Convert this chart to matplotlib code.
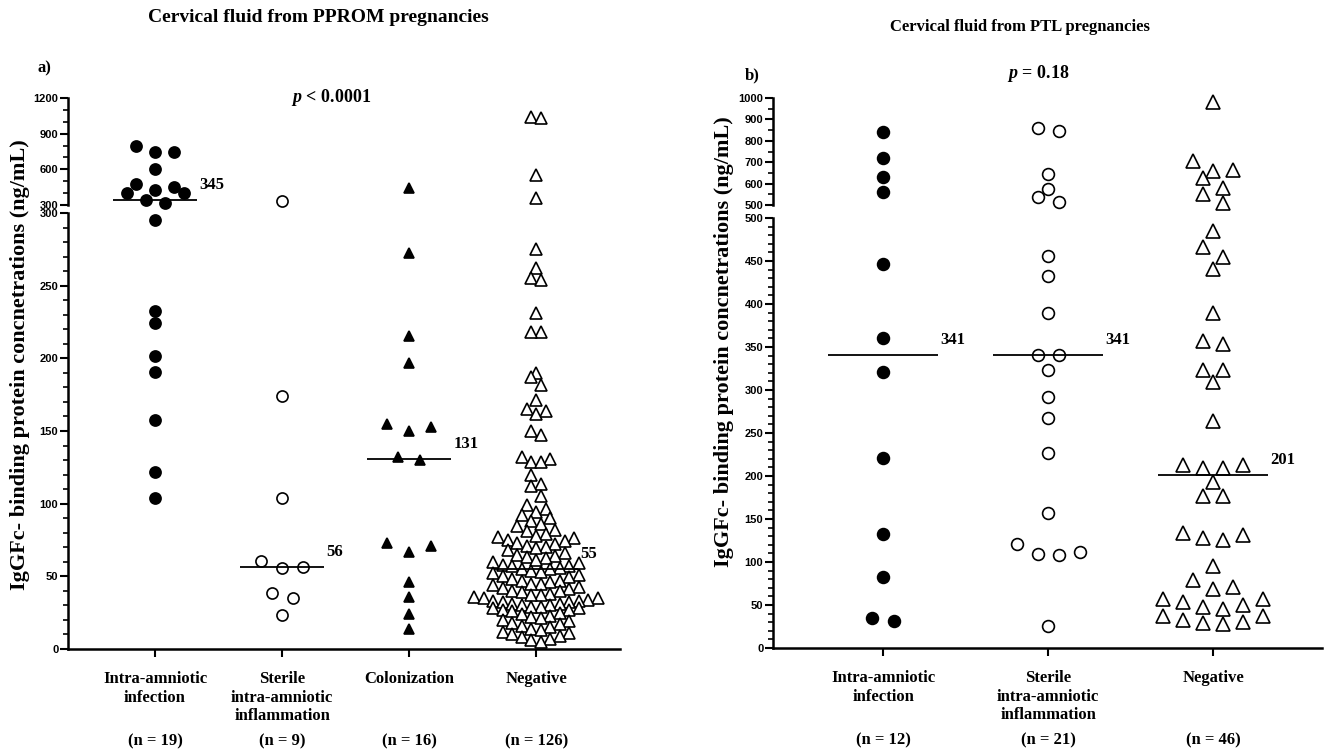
import numpy as np
import matplotlib.pyplot as plt
from matplotlib.ticker import MultipleLocator

plt.rcParams['mathtext.fontset'] = 'custom'
plt.rcParams['mathtext.it'] = 'Liberation Serif:italic:bold'
plt.rcParams['mathtext.rm'] = 'Liberation Serif:bold'

### Data (ng/mL)

# a) PPROM
a_categories = ['Intra-amniotic\ninfection', 'Sterile\nintra-amniotic\ninflammation',
                'Colonization', 'Negative']
a_n = [19, 9, 16, 126]
a_infection = [800, 748, 748, 600, 477, 454, 426, 398, 398, 345, 314,
               295, 232.6, 224.4, 201.3, 190.9, 157.9, 121.7, 103.8]
a_sterile = [336, 174, 104, 60.4, 56.2, 56, 38.3, 35.3, 23.2]
a_colonization = [445, 272.5, 215.7, 196.7, 154.8, 152.5, 149.7, 132, 130,
                  72.9, 71.2, 67, 46.2, 36, 24.1, 14.1]
a_negative = [1037, 1030, 552, 356,
              275, 262, 255, 254, 231, 218, 218, 190, 187, 181.5, 171, 165,
              164, 162, 150, 147, 132, 131, 129, 128.6, 120, 113.5, 112, 105,
              99, 96, 94, 92.5, 90, 88, 86, 84.5, 82, 81, 79, 78, 77, 76.5,
              75, 74, 73, 72, 71, 70, 69.5, 68, 66, 65, 64, 63, 62.5, 61, 60,
              59, 58, 57, 57, 56, 55, 55,
              54, 53, 52, 51, 50, 49.5, 48, 47, 47, 46, 45, 45, 44, 43,
              42, 41, 40, 40, 39, 38, 37, 37, 36, 35, 35, 34,
              33, 33, 32, 32, 31, 31, 30, 30, 29, 29, 28, 28, 27, 27, 26, 25,
              24, 23, 22, 21, 20, 19, 18, 17, 16, 15,
              14, 13, 12, 11, 10, 9, 8, 7, 6, 5]

# b) PTL
b_categories = ['Intra-amniotic\ninfection', 'Sterile\nintra-amniotic\ninflammation',
                'Negative']
b_n = [12, 21, 46]
b_infection = [840, 719, 633, 560, 447, 361, 321, 220.9, 133, 82.4, 35, 31]
b_sterile = [858, 847, 643, 573, 539, 515, 455.8, 432.4, 389, 341, 341,
             322.8, 291.7, 267, 226.7, 156.7, 120.5, 111.6, 108.9, 107.7, 26]
b_negative = [982.7, 705.6, 663.5, 660, 624.8, 578, 551.4, 508,
              485, 466.7, 454.3, 440.6, 389, 356.6, 354, 322.8, 322.8, 309,
              264.4, 212.7, 212.7, 209.2, 208.9, 192.5, 176.2, 176.2,
              133.4, 131, 127.5, 125.6, 95.2, 78.5, 71.2, 68.8,
              57.2, 56.4, 53.2, 50.5, 47.8, 45.5,
              36.9, 36.9, 32.2, 29.9, 29.2, 28.4]

W, H = 1329, 751
fig = plt.figure(figsize=(W / 100, H / 100), dpi=100)

serif = 'Liberation Serif'
sans = 'Liberation Sans'


def px_axes(left, right, top, bottom):
    return fig.add_axes([left / W, 1 - bottom / H, (right - left) / W, (bottom - top) / H])


def style(ax, upper, ylim, major, minor):
    ax.set_ylim(*ylim)
    ax.yaxis.set_major_locator(MultipleLocator(major))
    ax.yaxis.set_minor_locator(MultipleLocator(minor))
    for s in ['top', 'right']:
        ax.spines[s].set_visible(False)
    for s in ['left', 'bottom']:
        ax.spines[s].set_linewidth(1.8)
    ax.tick_params(axis='y', which='major', length=6, width=1.5, pad=1, labelsize=8)
    ax.tick_params(axis='y', which='minor', length=3.5, width=1.2)
    for lab in ax.get_yticklabels():
        lab.set_fontfamily(sans)
        lab.set_fontweight('bold')
    if upper:
        ax.spines['bottom'].set_visible(False)
        ax.set_xticks([])
    ax.patch.set_alpha(0)


def offsets_in_rows(vals, ppu, thresh):
    # Prism style rows: points closer than a marker height share a row
    vals = np.asarray(vals, float)
    out = np.zeros(len(vals))
    order = np.argsort(vals, kind='stable')
    row = []

    def flush(row):
        n = len(row)
        offs = sorted(np.arange(n) - (n - 1) / 2, key=lambda o: (abs(o), -o))
        for k, o in zip(row, offs):
            out[k] = o

    for k in order:
        if row and (vals[k] - vals[row[0]]) * ppu >= thresh:
            flush(row)
            row = []
        row.append(k)
    flush(row)
    return out


def panel(lo, hi, split, groups, cats, ns, thresh, lo_px, hi_px, x_px):
    for i, (vals, marker, filled, ms, step) in enumerate(groups):
        vals = np.asarray(vals, float)
        for ax, mask, ppu in [(lo, vals <= split, lo_px), (hi, vals > split, hi_px)]:
            v = vals[mask]
            if len(v) == 0:
                continue
            off = offsets_in_rows(v, ppu, thresh)
            ax.plot(i + off * step / x_px, v, linestyle='none', marker=marker,
                    ms=ms, mfc='black' if filled else 'white', mec='black',
                    mew=1.2, clip_on=False, zorder=3)
        med = np.median(vals)
        ax = lo if med <= split else hi
        ax.hlines(med, i - 1 / 3, i + 1 / 3, color='black', lw=1.3, zorder=4)
        ax.annotate(f'{med:.0f}', xy=(i + 1 / 3, med), xytext=(2, 7),
                    textcoords='offset pixels', ha='left', va='bottom',
                    fontsize=12, fontweight='bold', family=serif)
    lo.set_xticks(range(len(cats)))
    lo.set_xticklabels(cats, fontsize=12, fontweight='bold', family=serif,
                       linespacing=1.2)
    lo.tick_params(axis='x', length=6, width=1.5, pad=10)
    for i, n in enumerate(ns):
        lo.annotate(f'(n = {n})', xy=(i, 0), xycoords=('data', 'axes fraction'),
                    xytext=(0, -92), textcoords='offset pixels', ha='center',
                    va='center', fontsize=12, fontweight='bold', family=serif)


### Panel a
a_lo = px_axes(68, 620, 213, 649)
a_hi = px_axes(68, 620, 98, 205)
style(a_lo, False, (0, 300), 50, 10)
style(a_hi, True, (300, 1200), 300, 100)
for ax in (a_lo, a_hi):
    ax.set_xlim(-0.685, 3.66)
panel(a_lo, a_hi, 300,
      [(a_infection, 'o', True, 8, 19),
       (a_sterile, 'o', False, 8, 21),
       (a_colonization, '^', True, 7.5, 22),
       (a_negative, '^', False, 8, 9.5)],
      a_categories, a_n, 11, 436 / 300, 107 / 900, 127)

### Panel b
b_lo = px_axes(773, 1322, 218, 648)
b_hi = px_axes(773, 1322, 98, 205)
style(b_lo, False, (0, 500), 50, 10)
style(b_hi, True, (500, 1000), 100, 50)
for ax in (b_lo, b_hi):
    ax.set_xlim(-0.667, 2.66)
panel(b_lo, b_hi, 500,
      [(b_infection, 'o', True, 8.5, 22),
       (b_sterile, 'o', False, 8.5, 21),
       (b_negative, '^', False, 9.5, 20)],
      b_categories, b_n, 11.5, 430 / 500, 107 / 500, 165)

### Titles and labels
ylab = 'IgGFc- binding protein concnetrations (ng/mL)'
fig.text(20 / W, 1 - 365 / H, ylab, rotation=90, ha='center', va='center',
         fontsize=16, fontweight='bold', family=serif)
fig.text(724 / W, 1 - 342 / H, ylab, rotation=90, ha='center', va='center',
         fontsize=16, fontweight='bold', family=serif)
fig.text(318 / W, 1 - 17 / H, 'Cervical fluid from PPROM pregnancies',
         ha='center', va='center', fontsize=14, fontweight='bold', family=serif)
fig.text(1020 / W, 1 - 27 / H, 'Cervical fluid from PTL pregnancies',
         ha='center', va='center', fontsize=12, fontweight='bold', family=serif)
fig.text(44 / W, 1 - 68 / H, 'a)', ha='center', va='center', fontsize=12,
         fontweight='bold', family=serif)
fig.text(752 / W, 1 - 75 / H, 'b)', ha='center', va='center', fontsize=12,
         fontweight='bold', family=serif)
fig.text(331 / W, 1 - 97 / H, r'$p$ < 0.0001', ha='center', va='center',
         fontsize=13, fontweight='bold', family=serif)
fig.text(1038 / W, 1 - 74 / H, r'$p$ = 0.18', ha='center', va='center',
         fontsize=13, fontweight='bold', family=serif)

fig.savefig('out.png', dpi=100)
